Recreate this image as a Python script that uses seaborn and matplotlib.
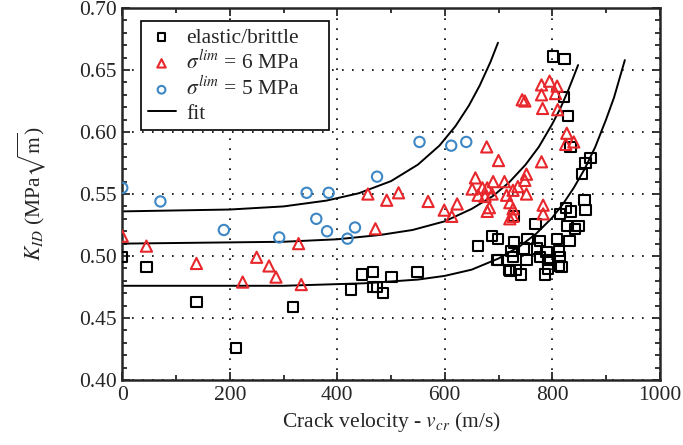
import matplotlib
matplotlib.use("Agg")
import matplotlib.pyplot as plt
import seaborn as sns
from matplotlib.ticker import MultipleLocator

# elastic/brittle data (crack velocity m/s, K_ID)
v_elastic = [0, 45, 138, 212, 317, 425, 446, 467, 467, 474, 485, 501, 549,
             662, 688, 697, 699, 699, 719, 721, 724, 727, 729, 729, 733, 742,
             747, 752, 754, 769, 772, 777, 777, 786, 789, 792, 792, 802, 809,
             812, 812, 814, 814, 817, 822, 823, 825, 827, 829, 832, 834, 835,
             842, 849, 855, 860, 862, 862, 871]
k_elastic = [0.499, 0.491, 0.463, 0.426, 0.459, 0.473, 0.485, 0.487, 0.475, 0.475, 0.470, 0.483, 0.487,
             0.508, 0.516, 0.497, 0.514, 0.497, 0.489, 0.488, 0.504, 0.499, 0.532, 0.511, 0.489, 0.485,
             0.506, 0.497, 0.514, 0.526, 0.506, 0.512, 0.499, 0.485, 0.503, 0.497, 0.490, 0.661, 0.514,
             0.504, 0.492, 0.499, 0.534, 0.491, 0.628, 0.659, 0.539, 0.524, 0.613, 0.512, 0.588, 0.536,
             0.522, 0.524, 0.566, 0.545, 0.575, 0.537, 0.579]

# sigma_lim = 6 MPa
v_six = [0, 45, 138, 224, 250, 273, 286, 328, 333,
         457, 471, 492, 514, 569, 599, 613, 623,
         651, 657, 662, 670, 675, 678, 679, 679, 683, 688, 690, 700,
         711, 715, 721, 721, 727, 727, 727, 736, 744, 749, 749, 752, 752,
         780, 780, 780, 782, 783, 783, 795, 806, 809, 810, 825, 827, 840]
k_six = [0.516, 0.508, 0.494, 0.479, 0.499, 0.492, 0.483, 0.510, 0.477,
         0.550, 0.522, 0.545, 0.551, 0.544, 0.537, 0.532, 0.542,
         0.554, 0.563, 0.549, 0.555, 0.548, 0.588, 0.555, 0.536, 0.539, 0.550, 0.560, 0.577,
         0.560, 0.549, 0.543, 0.530, 0.553, 0.538, 0.532, 0.556, 0.626, 0.625, 0.561, 0.550, 0.566,
         0.638, 0.630, 0.576, 0.619, 0.541, 0.534, 0.641, 0.631, 0.637, 0.618, 0.590, 0.599, 0.592]

# sigma_lim = 5 MPa
v_five = [0, 71, 189, 292, 343, 361, 381, 384, 419, 433, 474, 553, 612, 640]
k_five = [0.555, 0.544, 0.521, 0.515, 0.551, 0.530, 0.520, 0.551, 0.514, 0.523, 0.564, 0.592, 0.589, 0.592]

# fit curves
fit_elastic_v = [0, 300, 450, 550, 600, 650, 700, 740, 770, 800, 820, 840, 860, 880, 900, 915, 925, 935]
fit_elastic_k = [0.476, 0.476, 0.478, 0.481, 0.484, 0.489, 0.498, 0.508, 0.518, 0.531, 0.542, 0.555,
                 0.570, 0.588, 0.610, 0.628, 0.643, 0.658]
fit_six_v = [0, 300, 400, 480, 540, 600, 650, 690, 720, 750, 775, 800, 815, 830, 840, 848]
fit_six_k = [0.510, 0.5115, 0.5135, 0.517, 0.521, 0.528, 0.538, 0.5485, 0.5595, 0.5735, 0.588,
             0.6065, 0.619, 0.634, 0.645, 0.654]
fit_five_v = [0, 200, 300, 380, 440, 500, 550, 590, 620, 645, 665, 685, 699]
fit_five_k = [0.536, 0.5375, 0.540, 0.5447, 0.5506, 0.5604, 0.5737, 0.589, 0.6048, 0.6214,
              0.6375, 0.6565, 0.672]

sns.set_style("ticks")
plt.rcParams["font.family"] = ["Liberation Serif", "DejaVu Serif"]
plt.rcParams["mathtext.fontset"] = "stix"
fs = 15.5
plt.rcParams["font.size"] = fs

fig = plt.figure(figsize=(6.83, 4.45), dpi=100)
ax = fig.add_axes([0.179, 0.146, 0.787, 0.836])

ms = 55
sns.scatterplot(x=v_elastic, y=k_elastic, ax=ax, marker="s", s=ms, facecolor="none",
                edgecolor="black", linewidth=1.5, label="elastic/brittle", zorder=3)
sns.scatterplot(x=v_six, y=k_six, ax=ax, marker="^", s=ms + 10, facecolor="none",
                edgecolor="#e8272c", linewidth=1.5, label=r"$\sigma^{lim}$ = 6 MPa", zorder=3)
sns.scatterplot(x=v_five, y=k_five, ax=ax, marker="o", s=ms, facecolor="none",
                edgecolor="#3d87c5", linewidth=1.5, label=r"$\sigma^{lim}$ = 5 MPa", zorder=3)

for i, (fv, fk) in enumerate([(fit_elastic_v, fit_elastic_k), (fit_six_v, fit_six_k),
                               (fit_five_v, fit_five_k)]):
    sns.lineplot(x=fv, y=fk, ax=ax, color="black", linewidth=1.4, sort=False,
                 estimator=None, label="fit" if i == 0 else None, zorder=2)

ax.set_xlim(0, 1000)
ax.set_ylim(0.40, 0.70)
ax.xaxis.set_major_locator(MultipleLocator(200))
ax.xaxis.set_minor_locator(MultipleLocator(100))
ax.yaxis.set_major_locator(MultipleLocator(0.05))
ax.yaxis.set_minor_locator(MultipleLocator(0.01))
ax.tick_params(which="both", direction="in", top=True, right=True, width=1.3)
ax.tick_params(which="major", length=6, labelsize=fs, pad=4)
ax.tick_params(which="minor", length=3.5)
for sp in ax.spines.values():
    sp.set_linewidth(1.8)
ax.grid(True, which="major", color="black", linestyle=(0, (1, 5)), linewidth=1.2)

ax.set_xlabel(r"Crack velocity - $v_{cr}$ (m/s)", fontsize=fs)
ax.set_ylabel(r"$K_{ID}$ (MPa$\sqrt{\mathrm{m}}$)", fontsize=fs, labelpad=22)

leg = ax.legend(loc="upper left", bbox_to_anchor=(0.035, 0.672, 0.35, 0.293), mode="expand",
                borderaxespad=0, frameon=True, fancybox=False, framealpha=1, edgecolor="black",
                fontsize=fs, handlelength=1.3, borderpad=0.3, labelspacing=0.15,
                handletextpad=0.5, markerscale=0.75)
leg.get_frame().set_linewidth(1.2)

plt.savefig("out.png", dpi=100)
